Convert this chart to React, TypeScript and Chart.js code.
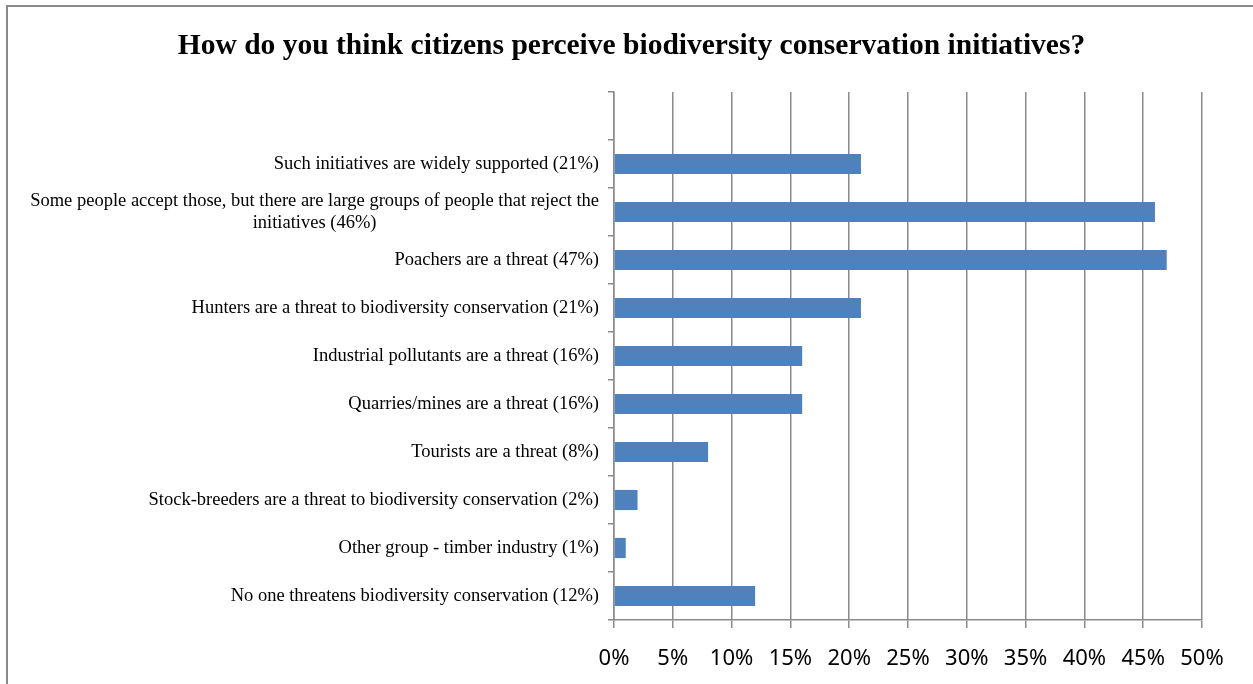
import React, { useEffect, useRef } from "react";
import { Chart, registerables } from "chart.js";

Chart.register(...registerables);

const titleText = "How do you think citizens perceive biodiversity conservation initiatives?";

const categories: string[][] = [
  [""],
  ["Such initiatives are widely supported (21%)"],
  ["Some people accept those, but there are large groups of people that reject the", "initiatives (46%)"],
  ["Poachers are a threat (47%)"],
  ["Hunters are a threat to biodiversity conservation (21%)"],
  ["Industrial pollutants are a threat (16%)"],
  ["Quarries/mines are a threat (16%)"],
  ["Tourists are a threat (8%)"],
  ["Stock-breeders are a threat to biodiversity conservation (2%)"],
  ["Other group - timber industry (1%)"],
  ["No one threatens biodiversity conservation (12%)"],
];

const values: (number | null)[] = [null, 21, 46, 47, 21, 16, 16, 8, 2, 1, 12];

const xTicks = [0, 5, 10, 15, 20, 25, 30, 35, 40, 45, 50];

const GRID = "#8a8a8a";
const BAR = "#4F81BD";

const labelPlugin = {
  id: "serifLabels",
  afterDraw(chart: any) {
    const ctx = chart.ctx as CanvasRenderingContext2D;
    const y = chart.scales.y;
    ctx.save();
    // title
    ctx.font = "bold 29.5px 'Liberation Serif', 'Times New Roman', serif";
    ctx.fillStyle = "#000";
    ctx.textAlign = "center";
    ctx.textBaseline = "middle";
    ctx.fillText(titleText, 631.5, 46);
    // category labels
    ctx.font = "18.5px 'Liberation Serif', 'Times New Roman', serif";
    const rightX = 599;
    const lh = 22;
    categories.forEach((lines, i) => {
      const cy = y.getPixelForValue(i);
      if (lines.length === 1) {
        ctx.textAlign = "right";
        ctx.fillText(lines[0], rightX, cy);
      } else {
        const maxW = Math.max(...lines.map((l) => ctx.measureText(l).width));
        const cx = rightX - maxW / 2;
        ctx.textAlign = "center";
        const start = cy - ((lines.length - 1) * lh) / 2;
        lines.forEach((l, k) => ctx.fillText(l, cx, start + k * lh));
      }
    });
    ctx.restore();
  },
};

export default function App() {
  const ref = useRef<HTMLCanvasElement | null>(null);
  useEffect(() => {
    if (!ref.current) return;
    const chart = new Chart(ref.current, {
      type: "bar",
      data: {
        labels: categories.map((c) => c.join(" ")),
        datasets: [
          {
            data: values as any,
            backgroundColor: BAR,
            borderWidth: 0,
            barPercentage: 0.42,
            categoryPercentage: 1,
          },
        ],
      },
      plugins: [labelPlugin],
      options: {
        indexAxis: "y",
        animation: false,
        responsive: false,
        maintainAspectRatio: false,
        layout: { padding: { left: 0, right: 51, top: 92, bottom: 0 } },
        plugins: {
          legend: { display: false },
          tooltip: { enabled: false },
          title: { display: false },
        },
        scales: {
          x: {
            type: "linear",
            min: 0,
            max: 50,
            afterBuildTicks: (scale: any) => {
              scale.ticks = xTicks.map((v) => ({ value: v }));
            },
            afterFit: (scale: any) => {
              scale.height = 64;
            },
            ticks: {
              callback: (v: any) => v + "%",
              color: "#000",
              font: { family: "'Noto Sans', 'Liberation Sans', sans-serif", size: 22 },
              padding: 18,
              maxRotation: 0,
            },
            grid: {
              color: GRID,
              lineWidth: 1.5,
              tickLength: 8,
              drawOnChartArea: true,
            },
            border: { display: true, color: GRID, width: 1.5 },
          },
          y: {
            type: "category",
            offset: true,
            afterFit: (scale: any) => {
              scale.width = 614;
            },
            ticks: { display: false },
            grid: {
              offset: true,
              color: GRID,
              lineWidth: 1.5,
              tickLength: 6,
              drawOnChartArea: false,
              drawTicks: true,
            },
            border: { display: true, color: GRID, width: 1.5 },
          },
        },
      },
    } as any);
    return () => chart.destroy();
  }, []);

  return (
    <div style={{ position: "absolute", left: 0, top: 0, width: 1253, height: 684, overflow: "hidden", background: "#fff" }}>
      <div
        style={{
          position: "absolute",
          left: 6,
          top: 5,
          width: 1300,
          height: 800,
          border: "2px solid #8a8a8a",
          boxSizing: "border-box",
        }}
      />
      <canvas ref={ref} width={1253} height={684} style={{ position: "absolute", left: 0, top: 0, display: "block" }} />
    </div>
  );
}
